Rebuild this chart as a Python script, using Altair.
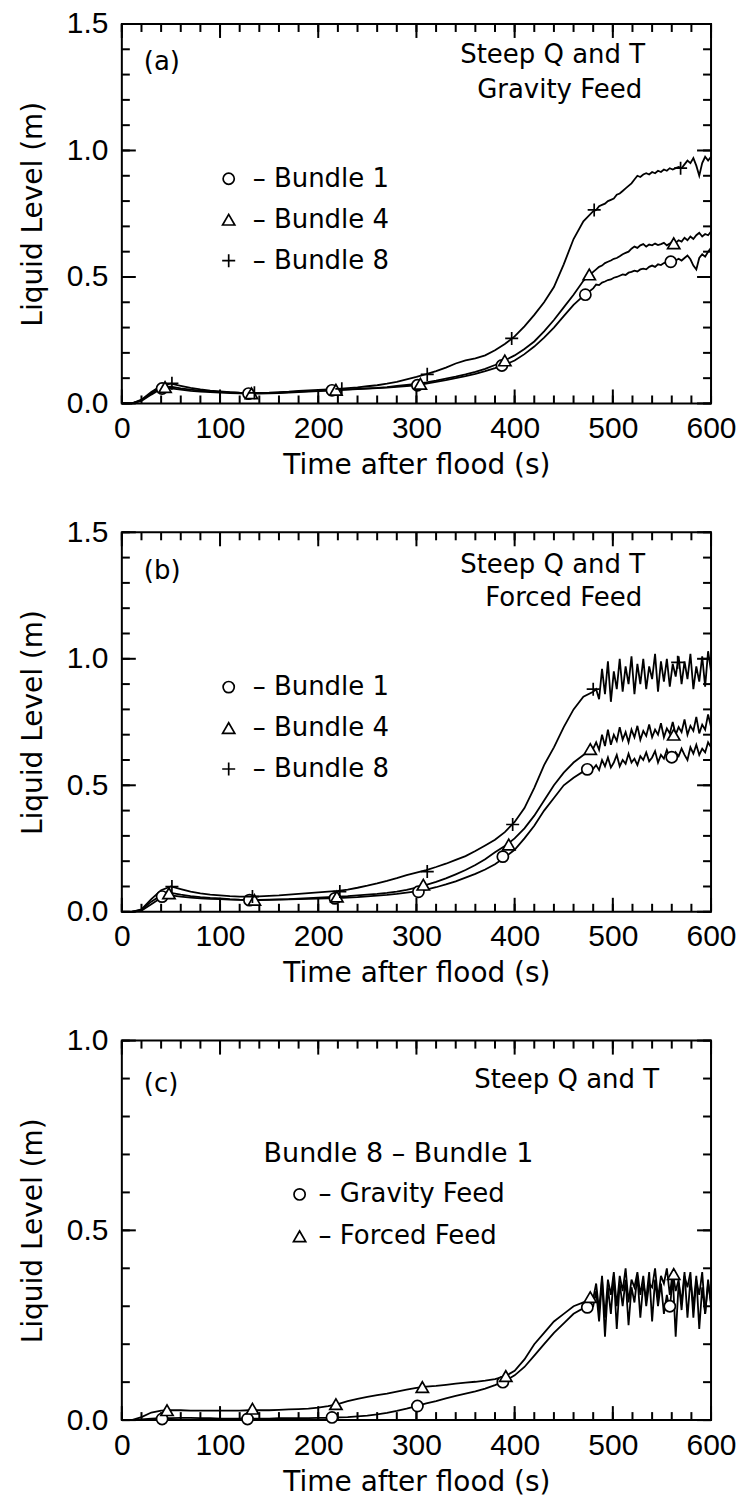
import altair as alt
import pandas as pd

# ---------------- sampling grid & tick values ----------------
TIME_EARLY = list(range(0, 480, 10))      # 48 samples
TIME_LATE = list(range(480, 601, 3))      # 41 samples

X_MAJOR = [0, 100, 200, 300, 400, 500, 600]
X_MINOR = list(range(0, 601, 20))
Y_MAJOR_AB = [0.0, 0.5, 1.0, 1.5]
Y_MINOR_AB = [round(i * 0.1, 1) for i in range(16)]
Y_MAJOR_C = [0.0, 0.5, 1.0]
Y_MINOR_C = [round(i * 0.1, 1) for i in range(11)]

# ---------------- panel (a): gravity feed ----------------
A_B1_EARLY = [0.0, 0.0, 0.01, 0.035, 0.058, 0.06, 0.055, 0.05, 0.047, 0.045,
              0.043, 0.041, 0.04, 0.039, 0.039, 0.04, 0.041, 0.043, 0.045, 0.047,
              0.049, 0.051, 0.053, 0.055, 0.057, 0.059, 0.061, 0.063, 0.066, 0.069,
              0.072, 0.078, 0.085, 0.092, 0.1, 0.108, 0.117, 0.128, 0.14, 0.153,
              0.17, 0.195, 0.225, 0.26, 0.3, 0.345, 0.39, 0.425]
A_B1_LATE = [0.455, 0.47, 0.468, 0.478, 0.482, 0.488, 0.49, 0.497, 0.5, 0.505,
             0.51, 0.508, 0.517, 0.52, 0.525, 0.522, 0.53, 0.533, 0.53, 0.54,
             0.545, 0.54, 0.55, 0.547, 0.555, 0.558, 0.56, 0.556, 0.565, 0.572,
             0.565, 0.575, 0.585, 0.57, 0.545, 0.53, 0.575, 0.59, 0.58, 0.6,
             0.615]
A_B4_EARLY = [0.0, 0.0, 0.012, 0.04, 0.064, 0.066, 0.06, 0.055, 0.051, 0.048,
              0.046, 0.044, 0.042, 0.041, 0.041, 0.042, 0.043, 0.045, 0.047, 0.049,
              0.05, 0.052, 0.054, 0.056, 0.058, 0.06, 0.062, 0.065, 0.069, 0.073,
              0.077, 0.083, 0.09, 0.098, 0.106, 0.115, 0.125, 0.137, 0.152, 0.17,
              0.19, 0.215, 0.245, 0.285, 0.33, 0.38, 0.43, 0.485]
A_B4_LATE = [0.52, 0.53, 0.54, 0.545, 0.555, 0.56, 0.565, 0.572, 0.575, 0.582,
             0.59, 0.595, 0.6, 0.612, 0.62, 0.615, 0.625, 0.63, 0.62, 0.628,
             0.625, 0.632, 0.626, 0.63, 0.635, 0.625, 0.632, 0.64, 0.635, 0.645,
             0.64, 0.655, 0.645, 0.66, 0.65, 0.665, 0.675, 0.66, 0.67, 0.665,
             0.68]
A_B8_EARLY = [0.0, 0.0, 0.015, 0.045, 0.07, 0.078, 0.07, 0.062, 0.056, 0.051,
              0.048, 0.045, 0.043, 0.042, 0.042, 0.043, 0.045, 0.047, 0.05, 0.052,
              0.054, 0.056, 0.058, 0.061, 0.064, 0.068, 0.072, 0.078, 0.085, 0.095,
              0.105, 0.116, 0.128, 0.142, 0.158, 0.17, 0.178, 0.19, 0.21, 0.235,
              0.265, 0.305, 0.35, 0.4, 0.46, 0.55, 0.65, 0.72]
A_B8_LATE = [0.76, 0.765, 0.78, 0.785, 0.79, 0.8, 0.805, 0.81, 0.825, 0.83,
             0.84, 0.85, 0.86, 0.87, 0.885, 0.9, 0.895, 0.905, 0.91, 0.905,
             0.915, 0.91, 0.92, 0.915, 0.925, 0.92, 0.93, 0.925, 0.93, 0.935,
             0.93, 0.945, 0.96, 0.95, 0.97, 0.94, 0.9, 0.95, 0.975, 0.96,
             0.975]
A_B1_MT = [41, 129, 214, 301, 387, 472, 559]
A_B1_MV = [0.059, 0.039, 0.052, 0.072, 0.15, 0.43, 0.56]
A_B4_MT = [44, 132, 218, 304, 390, 476, 562]
A_B4_MV = [0.065, 0.04, 0.054, 0.078, 0.17, 0.51, 0.633]
A_B8_MT = [51, 135, 224, 311, 397, 481, 569]
A_B8_MV = [0.08, 0.042, 0.058, 0.115, 0.257, 0.765, 0.93]

# ---------------- panel (b): forced feed ----------------
B_B1_EARLY = [0.0, 0.0, 0.005, 0.03, 0.055, 0.065, 0.06, 0.056, 0.053, 0.051,
              0.05, 0.048, 0.047, 0.046, 0.046, 0.047, 0.048, 0.049, 0.05, 0.051,
              0.052, 0.053, 0.054, 0.056, 0.058, 0.061, 0.064, 0.067, 0.071, 0.076,
              0.081, 0.088, 0.097, 0.108, 0.12, 0.135, 0.15, 0.167, 0.188, 0.215,
              0.245, 0.29, 0.34, 0.4, 0.45, 0.5, 0.53, 0.555]
B_B1_LATE = [0.565, 0.58, 0.56, 0.6, 0.575, 0.61, 0.57, 0.59, 0.62, 0.575,
             0.6, 0.585, 0.625, 0.59, 0.605, 0.58, 0.615, 0.6, 0.63, 0.595,
             0.61, 0.635, 0.59, 0.62, 0.605, 0.64, 0.61, 0.6, 0.63, 0.615,
             0.645, 0.62, 0.6, 0.65, 0.625, 0.66, 0.62, 0.645, 0.63, 0.67,
             0.65]
B_B4_EARLY = [0.0, 0.0, 0.008, 0.04, 0.065, 0.075, 0.068, 0.062, 0.058, 0.055,
              0.053, 0.05, 0.048, 0.047, 0.047, 0.048, 0.049, 0.05, 0.052, 0.054,
              0.056, 0.058, 0.06, 0.062, 0.065, 0.068, 0.071, 0.075, 0.08, 0.087,
              0.095, 0.106, 0.118, 0.132, 0.148, 0.165, 0.185, 0.208, 0.235, 0.26,
              0.29, 0.33, 0.38, 0.44, 0.5, 0.55, 0.59, 0.62]
B_B4_LATE = [0.645, 0.67, 0.64, 0.7, 0.655, 0.72, 0.66, 0.7, 0.675, 0.73,
             0.68, 0.71, 0.67, 0.72, 0.69, 0.735, 0.68, 0.715, 0.695, 0.74,
             0.69, 0.72, 0.7, 0.745, 0.69, 0.725, 0.705, 0.75, 0.7, 0.73,
             0.71, 0.76, 0.7, 0.735, 0.715, 0.77, 0.705, 0.74, 0.72, 0.78,
             0.73]
B_B8_EARLY = [0.0, 0.0, 0.01, 0.05, 0.085, 0.1, 0.09, 0.08, 0.073, 0.068,
              0.065, 0.062, 0.06, 0.06, 0.061, 0.063, 0.065, 0.068, 0.071, 0.074,
              0.077, 0.08, 0.083, 0.088, 0.095, 0.103, 0.112, 0.122, 0.133, 0.145,
              0.155, 0.165, 0.177, 0.19, 0.205, 0.22, 0.24, 0.262, 0.285, 0.315,
              0.355, 0.41, 0.49, 0.58, 0.65, 0.73, 0.8, 0.85]
B_B8_LATE = [0.87, 0.88, 0.84, 0.96, 0.86, 0.99, 0.83, 0.95, 0.88, 1.0,
             0.87, 0.97, 0.9, 1.01, 0.86, 0.98, 0.9, 1.0, 0.88, 0.97,
             0.92, 1.02, 0.87, 0.99, 0.91, 1.0, 0.89, 0.98, 0.93, 1.01,
             0.9, 0.99, 0.92, 1.02, 0.88, 0.97, 0.91, 1.01, 0.89, 1.03,
             0.95]
B_B1_MT = [41, 130, 217, 302, 388, 474, 560]
B_B1_MV = [0.06, 0.046, 0.053, 0.079, 0.218, 0.563, 0.611]
B_B4_MT = [48, 135, 219, 307, 394, 477, 562]
B_B4_MV = [0.073, 0.047, 0.06, 0.107, 0.266, 0.643, 0.70]
B_B8_MT = [51, 133, 222, 311, 398, 480, 566]
B_B8_MV = [0.1, 0.06, 0.08, 0.159, 0.345, 0.88, 0.986]

# ---------------- panel (c): Bundle 8 - Bundle 1 ----------------
C_GRAV_EARLY = [0.0, 0.0, 0.002, 0.004, 0.005, 0.005, 0.006, 0.006, 0.005, 0.005,
                0.004, 0.004, 0.004, 0.004, 0.004, 0.004, 0.005, 0.005, 0.005, 0.005,
                0.006, 0.006, 0.007, 0.008, 0.01, 0.012, 0.015, 0.019, 0.024, 0.03,
                0.037, 0.044, 0.05, 0.057, 0.064, 0.07, 0.076, 0.083, 0.092, 0.103,
                0.118, 0.14, 0.17, 0.2, 0.23, 0.255, 0.28, 0.295]
C_GRAV_LATE = [0.3, 0.34, 0.26, 0.37, 0.22, 0.35, 0.28, 0.38, 0.24, 0.36,
               0.3, 0.37, 0.25, 0.35, 0.31, 0.38, 0.27, 0.36, 0.32, 0.39,
               0.26, 0.37, 0.3, 0.36, 0.28, 0.33, 0.29, 0.38, 0.22, 0.36,
               0.31, 0.39, 0.27, 0.37, 0.3, 0.38, 0.24, 0.35, 0.28, 0.37,
               0.3]
C_FORC_EARLY = [0.0, 0.0, 0.008, 0.02, 0.025, 0.026, 0.026, 0.025, 0.025, 0.025,
                0.025, 0.025, 0.025, 0.026, 0.026, 0.026, 0.027, 0.028, 0.029, 0.03,
                0.033, 0.037, 0.042, 0.05, 0.056, 0.061, 0.066, 0.07, 0.075, 0.08,
                0.085, 0.088, 0.09, 0.093, 0.096, 0.099, 0.101, 0.104, 0.108, 0.115,
                0.13, 0.16, 0.2, 0.23, 0.26, 0.28, 0.3, 0.31]
C_FORC_LATE = [0.32, 0.36, 0.29, 0.38, 0.27, 0.37, 0.33, 0.39, 0.3, 0.38,
               0.34, 0.4, 0.31, 0.37, 0.35, 0.39, 0.33, 0.38, 0.3, 0.36,
               0.35, 0.4, 0.32, 0.38, 0.36, 0.4, 0.33, 0.39, 0.34, 0.37,
               0.29, 0.38, 0.35, 0.39, 0.27, 0.37, 0.33, 0.39, 0.28, 0.36,
               0.31]
C_GRAV_MT = [41, 128, 214, 301, 388, 474, 558]
C_GRAV_MV = [0.003, 0.003, 0.007, 0.037, 0.1, 0.297, 0.30]
C_FORC_MT = [46, 133, 218, 306, 391, 477, 562]
C_FORC_MV = [0.026, 0.03, 0.042, 0.087, 0.116, 0.324, 0.385]

# ---------------- styling ----------------
W, H = 590, 380
TFONT = "DejaVu Sans"
NFONT = "Liberation Sans"
MAJ, MIN = 14, 8
PLUS = "M-1,0L1,0M0,-1L0,1"


def line_df(series):
    rows = []
    for name, (early, late) in series.items():
        for t, v in zip(TIME_EARLY, early):
            rows.append({"t": t, "v": v, "s": name})
        for t, v in zip(TIME_LATE, late):
            rows.append({"t": t, "v": v, "s": name})
    return pd.DataFrame(rows)


def x_axis():
    return alt.Axis(orient="bottom", values=X_MAJOR, tickSize=13, offset=-13,
                    domain=False, grid=False, ticks=True, tickOpacity=0,
                    labelFont=NFONT, labelFontSize=30, labelColor="black",
                    labelPadding=10, labelOverlap=False, labelFlush=False,
                    title="Time after flood (s)", titleFont=TFONT, titleFontSize=28,
                    titleFontWeight="normal", titleColor="black", titlePadding=8,
                    minExtent=0)


def y_axis(values):
    return alt.Axis(orient="left", values=values, format=".1f", tickSize=13,
                    offset=-13, domain=False, grid=False, ticks=True, tickOpacity=0,
                    labelFont=NFONT, labelFontSize=30, labelColor="black",
                    labelPadding=14, labelOverlap=False, labelFlush=False,
                    title="Liquid Level (m)", titleFont=TFONT, titleFontSize=28,
                    titleFontWeight="normal", titleColor="black", titlePadding=19,
                    minExtent=0)


def tick_layers(xs, ys, ymajor, yminor):
    # inward-pointing ticks on all four sides of the frame
    layers = []
    for vals, size in ((X_MINOR, MIN), (X_MAJOR, MAJ)):
        df = pd.DataFrame({"t": vals})
        xe = alt.X("t:Q", scale=xs, axis=None)
        base = alt.Chart(df).mark_rule(color="black", strokeWidth=2)
        layers.append(base.encode(x=xe, y=alt.value(H), y2=alt.value(H - size)))
        layers.append(base.encode(x=xe, y=alt.value(0), y2=alt.value(size)))
    for vals, size in ((yminor, MIN), (ymajor, MAJ)):
        df = pd.DataFrame({"v": vals})
        ye = alt.Y("v:Q", scale=ys, axis=None)
        base = alt.Chart(df).mark_rule(color="black", strokeWidth=2)
        layers.append(base.encode(y=ye, x=alt.value(0), x2=alt.value(size)))
        layers.append(base.encode(y=ye, x=alt.value(W), x2=alt.value(W - size)))
    return layers


def text(s, x, y, align="left", size=26):
    return alt.Chart(pd.DataFrame({"s": [s]})).mark_text(
        align=align, baseline="middle", font=TFONT, fontSize=size, color="black"
    ).encode(x=alt.value(x), y=alt.value(y), text="s:N")


def marker_style(kind):
    if kind == "circle":
        return dict(shape="circle", size=125, filled=True, fill="white",
                    stroke="black", strokeWidth=1.7, opacity=1)
    if kind == "triangle":
        return dict(shape="triangle-up", size=150, filled=True, fill="white",
                    stroke="black", strokeWidth=1.7, opacity=1)
    return dict(shape=PLUS, size=170, filled=False, stroke="black",
                strokeWidth=1.7, opacity=1)


def sym(kind, x, y):
    return alt.Chart(pd.DataFrame({"k": [0]})).mark_point(**marker_style(kind)).encode(
        x=alt.value(x), y=alt.value(y))


def panel(series, markers, ymax, ymajor, yminor, annotations):
    xs = alt.Scale(domain=[0, 600], nice=False, zero=False)
    ys = alt.Scale(domain=[0, ymax], nice=False, zero=False)
    ldf = line_df(series)
    layers = [
        alt.Chart(ldf).mark_point(opacity=0).encode(
            x=alt.X("t:Q", scale=xs, axis=x_axis()),
            y=alt.Y("v:Q", scale=ys, axis=y_axis(ymajor))),
    ]
    layers.extend(tick_layers(xs, ys, ymajor, yminor))
    layers.append(
        alt.Chart(ldf).mark_line(color="black", strokeWidth=1.8).encode(
            x=alt.X("t:Q", scale=xs, axis=None),
            y=alt.Y("v:Q", scale=ys, axis=None),
            detail="s:N"))
    for kind, mt, mv in markers:
        layers.append(
            alt.Chart(pd.DataFrame({"t": mt, "v": mv})).mark_point(**marker_style(kind)).encode(
                x=alt.X("t:Q", scale=xs, axis=None),
                y=alt.Y("v:Q", scale=ys, axis=None)))
    layers.extend(annotations)
    return alt.layer(*layers).resolve_axis(x="independent", y="independent").properties(
        width=W, height=H)


leg_rows = [155, 196, 237]
pa = panel(
    {"Bundle 1": (A_B1_EARLY, A_B1_LATE), "Bundle 4": (A_B4_EARLY, A_B4_LATE),
     "Bundle 8": (A_B8_EARLY, A_B8_LATE)},
    [("circle", A_B1_MT, A_B1_MV), ("triangle", A_B4_MT, A_B4_MV), ("plus", A_B8_MT, A_B8_MV)],
    1.5, Y_MAJOR_AB, Y_MINOR_AB,
    [text("(a)", 22, 38), text("Steep Q and T", 524, 31, "right"),
     text("Gravity Feed", 521, 66, "right"),
     sym("circle", 107, leg_rows[0]), sym("triangle", 107, leg_rows[1]), sym("plus", 107, leg_rows[2]),
     text("– Bundle 1", 131, leg_rows[0]), text("– Bundle 4", 131, leg_rows[1]),
     text("– Bundle 8", 131, leg_rows[2])])

pb = panel(
    {"Bundle 1": (B_B1_EARLY, B_B1_LATE), "Bundle 4": (B_B4_EARLY, B_B4_LATE),
     "Bundle 8": (B_B8_EARLY, B_B8_LATE)},
    [("circle", B_B1_MT, B_B1_MV), ("triangle", B_B4_MT, B_B4_MV), ("plus", B_B8_MT, B_B8_MV)],
    1.5, Y_MAJOR_AB, Y_MINOR_AB,
    [text("(b)", 22, 39), text("Steep Q and T", 524, 33, "right"),
     text("Forced Feed", 521, 66, "right"),
     sym("circle", 107, leg_rows[0]), sym("triangle", 107, leg_rows[1]), sym("plus", 107, leg_rows[2]),
     text("– Bundle 1", 131, leg_rows[0]), text("– Bundle 4", 131, leg_rows[1]),
     text("– Bundle 8", 131, leg_rows[2])])

pc = panel(
    {"Gravity Feed": (C_GRAV_EARLY, C_GRAV_LATE), "Forced Feed": (C_FORC_EARLY, C_FORC_LATE)},
    [("circle", C_GRAV_MT, C_GRAV_MV), ("triangle", C_FORC_MT, C_FORC_MV)],
    1.0, Y_MAJOR_C, Y_MINOR_C,
    [text("(c)", 22, 43), text("Steep Q and T", 538, 39, "right"),
     text("Bundle 8 – Bundle 1", 277, 114, "center", 27),
     sym("circle", 178, 154), text("– Gravity Feed", 197, 154),
     sym("triangle", 178, 196), text("– Forced Feed", 197, 196)])

chart = alt.vconcat(pa, pb, pc, spacing=36).properties(
    padding={"left": 18, "top": 7, "right": 2, "bottom": 5}
).configure(background="white").configure_view(stroke="black", strokeWidth=2)

chart.save("out.html", embed_options={"renderer": "svg", "actions": False})
